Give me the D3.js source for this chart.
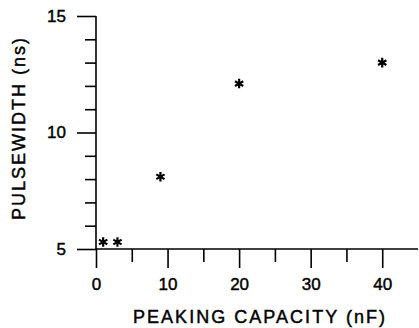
<!DOCTYPE html>
<html>
<head>
<meta charset="utf-8">
<script src="https://cdn.jsdelivr.net/npm/d3@7"></script>
<style>
  html, body { margin: 0; padding: 0; background: #fff; }
  svg { display: block; }
  text { font-family: "Liberation Sans", Arial, sans-serif; fill: #000; stroke: #000; stroke-width: 0.45px; }
</style>
</head>
<body>
<script>
// Data
const capacity = [1, 3, 9, 20, 40];          // nF
const pulsewidth = [5.3, 5.3, 8.1, 12.1, 13.0]; // ns
const xMajorTicks = [0, 10, 20, 30, 40];
const xMinorTicks = [5, 15, 25, 35];
const yMajorTicks = [5, 10, 15];
const yMinorTicks = [6, 7, 8, 9, 11, 12, 13, 14];
const xTitle = "PEAKING CAPACITY (nF)";
const yTitle = "PULSEWIDTH (ns)";

const W = 419, H = 328;
const svg = d3.select("body").append("svg").attr("width", W).attr("height", H);

const x = d3.scaleLinear().domain([0, 45]).range([96, 418]);
const y = d3.scaleLinear().domain([5, 15]).range([249, 16]);

const sw = 1.6;

// Y axis minor ticks
const gyMinor = svg.append("g").attr("transform", `translate(${x(0)},0)`)
  .call(d3.axisLeft(y).tickValues(yMinorTicks).tickSize(11).tickSizeOuter(0).tickFormat(""));
// Y axis major ticks
const gyMajor = svg.append("g").attr("transform", `translate(${x(0)},0)`)
  .call(d3.axisLeft(y).tickValues(yMajorTicks).tickSize(19).tickSizeOuter(0).tickPadding(11).tickFormat(d3.format("d")));
// X axis minor
const gxMinor = svg.append("g").attr("transform", `translate(0,${y(5)})`)
  .call(d3.axisBottom(x).tickValues(xMinorTicks).tickSize(13).tickSizeOuter(0).tickFormat(""));
// X axis major
const gxMajor = svg.append("g").attr("transform", `translate(0,${y(5)})`)
  .call(d3.axisBottom(x).tickValues(xMajorTicks).tickSize(19).tickSizeOuter(0).tickPadding(10).tickFormat(d3.format("d")));

[gyMinor, gyMajor, gxMinor, gxMajor].forEach(g => {
  g.select(".domain").remove();
  g.selectAll(".tick line").attr("stroke", "#000").attr("stroke-width", sw);
  g.selectAll(".tick text").attr("font-size", 17).attr("font-family", "Liberation Sans, Arial, sans-serif").attr("fill", "#000");
});

// Axis lines
svg.append("line")
  .attr("x1", x(0)).attr("x2", x(0))
  .attr("y1", y(15)).attr("y2", y(5))
  .attr("stroke", "#000").attr("stroke-width", sw);
svg.append("line")
  .attr("x1", x(0)).attr("x2", x(45))
  .attr("y1", y(5)).attr("y2", y(5))
  .attr("stroke", "#000").attr("stroke-width", sw);

// Titles
svg.append("text")
  .attr("x", 259).attr("y", 323)
  .attr("text-anchor", "middle")
  .attr("font-size", 18)
  .attr("textLength", 252).attr("lengthAdjust", "spacing")
  .text(xTitle);
svg.append("text")
  .attr("transform", `translate(25,129) rotate(-90)`)
  .attr("text-anchor", "middle")
  .attr("font-size", 18)
  .attr("textLength", 182).attr("lengthAdjust", "spacing")
  .text(yTitle);

// Points
const star = d3.symbol().type(d3.symbolAsterisk).size(64);
svg.append("g").selectAll("path")
  .data(capacity.map((c, i) => [c, pulsewidth[i]]))
  .join("path")
  .attr("transform", d => `translate(${x(d[0])},${y(d[1])})`)
  .attr("d", star)
  .attr("fill", "none")
  .attr("stroke", "#000")
  .attr("stroke-width", 2.2);
</script>
</body>
</html>
